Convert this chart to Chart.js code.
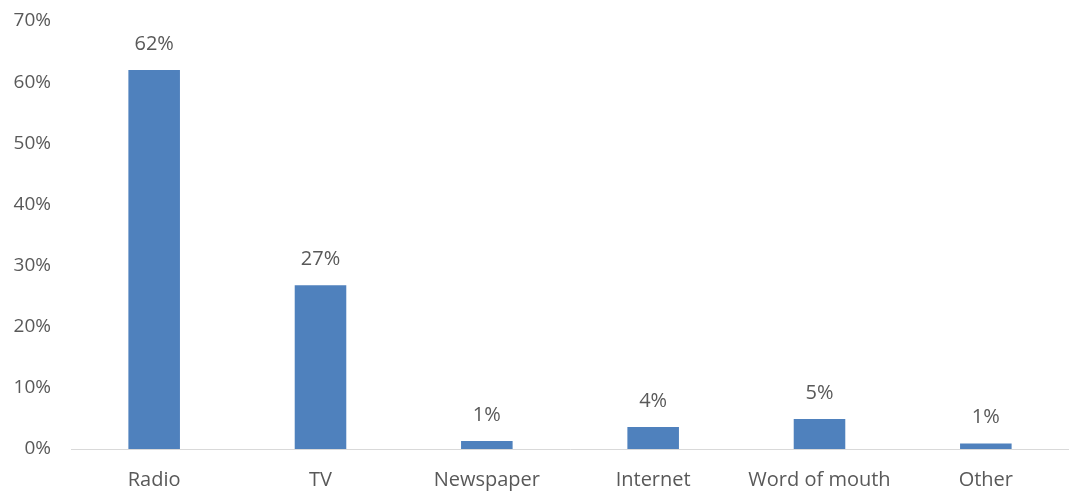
<!DOCTYPE html>
<html>
<head>
<meta charset="utf-8">
<script src="https://cdn.jsdelivr.net/npm/chart.js@4/dist/chart.umd.min.js"></script>
<style>
  html, body { margin: 0; padding: 0; background: #fff; }
  #wrap { width: 1069px; height: 491px; }
</style>
</head>
<body>
<div id="wrap"><canvas id="barChart"></canvas></div>
<script>
// dados
const categories = ['Radio', 'TV', 'Newspaper', 'Internet', 'Word of mouth', 'Other'];
const shares = [0.62, 0.268, 0.013, 0.036, 0.049, 0.009];
const yTicks = [0, 0.1, 0.2, 0.3, 0.4, 0.5, 0.6, 0.7];

const textColor = '#595959';
const fontFamily = '"Open Sans", "Noto Sans", sans-serif';

const pct = v => Math.round(v * 100) + '%';

// rótulos por cima das barras
const barLabels = {
    id: 'barLabels',
    afterDatasetsDraw(chart) {
        const ctx = chart.ctx;
        const meta = chart.getDatasetMeta(0);
        ctx.save();
        ctx.font = '20px ' + fontFamily;
        ctx.fillStyle = textColor;
        ctx.textAlign = 'center';
        ctx.textBaseline = 'middle';
        meta.data.forEach((bar, i) => {
            ctx.fillText(pct(shares[i]), bar.x, bar.y - 26);
        });
        ctx.restore();
    }
};

const ctxBar = document.getElementById('barChart').getContext('2d');

const barChart = new Chart(ctxBar, {
    type: 'bar',
    data: {
        labels: categories,
        datasets: [{
            data: shares,
            backgroundColor: '#4f81bd',
            categoryPercentage: 1,
            barPercentage: 0.31
        }]
    },
    options: {
        responsive: true,
        maintainAspectRatio: false,
        animation: false,
        layout: { padding: { top: 21, right: 0, left: 0, bottom: 0 } },
        plugins: {
            legend: { display: false },
            tooltip: { enabled: false }
        },
        scales: {
            x: {
                grid: { display: false },
                border: { color: '#d9d9d9', width: 1 },
                ticks: {
                    color: textColor,
                    font: { family: fontFamily, size: 20 },
                    padding: 11
                },
                afterFit: s => { s.height = 42; s.paddingLeft = 0; s.paddingRight = 0; }
            },
            y: {
                min: 0,
                max: 0.7,
                grid: { display: false, drawTicks: false },
                border: { display: false },
                afterBuildTicks: s => { s.ticks = yTicks.map(v => ({ value: v })); },
                ticks: {
                    color: textColor,
                    font: { family: fontFamily, size: 19 },
                    padding: 20,
                    callback: v => pct(v)
                },
                afterFit: s => { s.width = 71; s.paddingTop = 0; s.paddingBottom = 0; }
            }
        }
    },
    plugins: [barLabels]
});
</script>
</body>
</html>
